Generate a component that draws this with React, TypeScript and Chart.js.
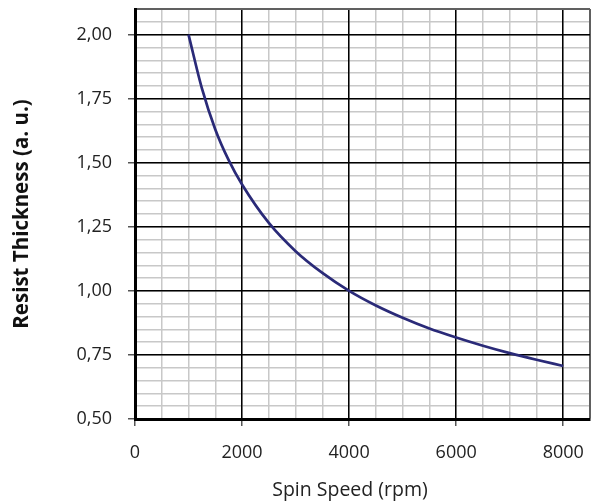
import React, { useEffect, useRef } from "react";
import { Chart, registerables } from "chart.js";

Chart.register(...registerables);

// Spin speed (rpm) and resist thickness (a.u.)
const spinSpeed = [1000, 1250, 1500, 1750, 2000, 2500, 3000, 3500, 4000, 4500, 5000, 5500, 6000, 6500, 7000, 7500, 8000];
const thickness = [2.0, 1.79, 1.63, 1.51, 1.415, 1.265, 1.155, 1.07, 1.0, 0.943, 0.895, 0.853, 0.818, 0.786, 0.757, 0.731, 0.707];

const xMin = 0;
const xMax = 8500;
const xMinorStep = 500;
const xMajorStep = 2000;
const yMin = 0.5;
const yMax = 2.1;
const yMinorStep = 0.05;
const yMajorStep = 0.25;

const xTitle = "Spin Speed (rpm)";
const yTitle = "Resist Thickness (a. u.)";

const FONT = "'Open Sans', 'Noto Sans', sans-serif";
const MINOR = "#c8c8c8";
const EDGE = "#606060";

const stepTicks = (min: number, max: number, step: number) => {
  const t: { value: number }[] = [];
  const n = Math.round((max - min) / step);
  for (let i = 0; i <= n; i++) t.push({ value: +(min + i * step).toFixed(6) });
  return t;
};

const majorTicks = (min: number, max: number, step: number) => {
  const t = stepTicks(min, max, step).filter((k) => k.value <= max + 1e-9);
  if (Math.abs(t[t.length - 1].value - max) > 1e-9) t.push({ value: max });
  return t;
};

export default function App() {
  const ref = useRef<HTMLCanvasElement>(null);

  useEffect(() => {
    if (!ref.current) return;
    const minorScale = (axis: "x" | "y", min: number, max: number, step: number, position: string, size: number) => ({
      type: "linear",
      axis,
      position,
      min,
      max,
      afterBuildTicks: (scale: any) => {
        scale.ticks = stepTicks(min, max, step);
      },
      afterFit: (scale: any) => {
        if (axis === "x") scale.height = size;
        else scale.width = size;
        scale.paddingTop = 0;
        scale.paddingBottom = 0;
        scale.paddingLeft = 0;
        scale.paddingRight = 0;
      },
      ticks: { display: false },
      border: { display: false },
      grid: { color: MINOR, lineWidth: 1.5, drawTicks: false, z: -2 },
    });

    const chart = new Chart(ref.current, {
      type: "line",
      data: {
        datasets: [
          {
            data: spinSpeed.map((x, i) => ({ x, y: thickness[i] })),
            borderColor: "#2a2a78",
            borderWidth: 2.7,
            pointRadius: 0,
            cubicInterpolationMode: "monotone",
            fill: false,
            xAxisID: "x",
            yAxisID: "y",
          },
        ],
      },
      options: {
        animation: false,
        responsive: false,
        plugins: { legend: { display: false }, tooltip: { enabled: false } },
        layout: { padding: { top: 9, right: -99, left: 0, bottom: 0 } },
        scales: {
          xm: minorScale("x", xMin, xMax, xMinorStep, "bottom", 0),
          ym: minorScale("y", yMin, yMax, yMinorStep, "right", 110),
          xt: {
            type: "linear",
            axis: "x",
            position: "bottom",
            fullSize: true,
            weight: 10,
            min: xMin,
            max: xMax,
            afterFit: (scale: any) => {
              scale.height = 30;
              scale.paddingLeft = 0;
              scale.paddingRight = 0;
            },
            ticks: { display: false },
            grid: { display: false, drawTicks: false },
            border: { display: false },
            title: {
              display: true,
              text: xTitle,
              color: "#222",
              font: { family: FONT, size: 19.5 },
              padding: { top: 0, bottom: 2 },
            },
          },
          x: {
            type: "linear",
            min: xMin,
            max: xMax,
            weight: 0,
            afterBuildTicks: (scale: any) => {
              scale.ticks = majorTicks(xMin, xMax, xMajorStep);
            },
            afterFit: (scale: any) => {
              scale.height = 55;
              scale.paddingLeft = 0;
              scale.paddingRight = 0;
            },
            ticks: {
              autoSkip: false,
              maxRotation: 0,
              padding: 16,
              color: "#222",
              font: { family: FONT, size: 18 },
              callback: (v: any) => (v < xMax ? String(v) : ""),
            },
            grid: {
              z: -1,
              color: (ctx: any) => (ctx.tick && ctx.tick.value >= xMax ? EDGE : "#000"),
              lineWidth: (ctx: any) => (ctx.tick && ctx.tick.value >= xMax ? 2 : 1.5),
              tickColor: (ctx: any) => (ctx.tick && ctx.tick.value >= xMax ? "rgba(0,0,0,0)" : "#555"),
              tickLength: 7,
              tickWidth: 1.5,
            },
            border: { display: true, color: "#000", width: 3 },
            title: { display: false },
          },
          y: {
            type: "linear",
            min: yMin,
            max: yMax,
            afterBuildTicks: (scale: any) => {
              scale.ticks = majorTicks(yMin, yMax, yMajorStep);
            },
            afterFit: (scale: any) => {
              scale.width = 135;
              scale.paddingTop = 0;
              scale.paddingBottom = 0;
            },
            ticks: {
              autoSkip: false,
              padding: 16,
              color: "#222",
              font: { family: FONT, size: 18 },
              callback: (v: any) => (v < yMax - 1e-6 ? Number(v).toFixed(2).replace(".", ",") : ""),
            },
            grid: {
              z: -1,
              color: (ctx: any) => (ctx.tick && ctx.tick.value >= yMax - 1e-6 ? EDGE : "#000"),
              lineWidth: (ctx: any) => (ctx.tick && ctx.tick.value >= yMax - 1e-6 ? 2 : 1.5),
              tickColor: (ctx: any) => (ctx.tick && ctx.tick.value >= yMax - 1e-6 ? "rgba(0,0,0,0)" : "#555"),
              tickLength: 7,
              tickWidth: 1.5,
            },
            border: { display: true, color: "#000", width: 3 },
            title: {
              display: true,
              text: yTitle,
              color: "#111",
              font: { family: FONT, size: 20.5, weight: "bold" },
              padding: { top: 10, bottom: 0 },
            },
          },
        },
      },
    } as any);
    return () => chart.destroy();
  }, []);

  return (
    <div style={{ position: "fixed", left: 0, top: 0, width: 601, height: 504, background: "#fff" }}>
      <canvas ref={ref} width={601} height={504} style={{ display: "block" }} />
    </div>
  );
}
